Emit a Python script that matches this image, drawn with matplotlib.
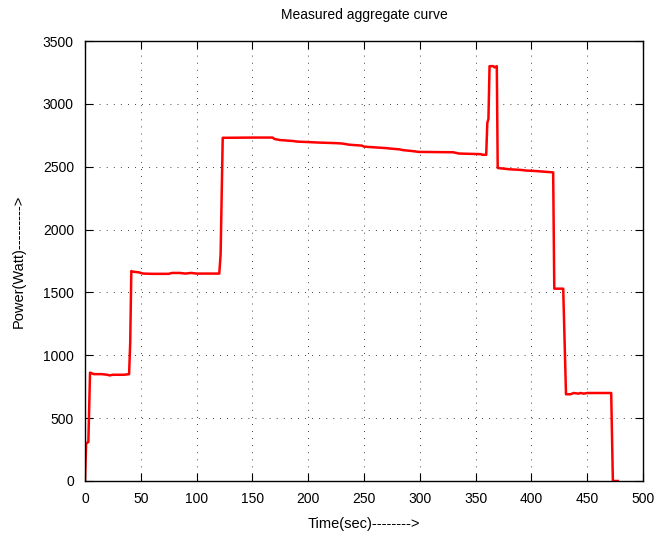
# Measured aggregate power curve (gnuplot-style)
import matplotlib
matplotlib.use("Agg")
import matplotlib.pyplot as plt

plt.rcParams["font.family"] = ["Liberation Sans", "DejaVu Sans"]

# Time (sec) and power (Watt) samples (10 per line)
time_sec = [0, 1, 2, 3, 4.5, 8, 15, 20, 22, 25,
            35, 39.5, 40.5, 41.5, 43, 48, 52, 60, 75, 78,
            85, 90, 95, 100, 120.3, 121.5, 123.4, 150, 168, 170,
            175, 186, 190, 203, 210, 224, 230, 237, 248, 250,
            258, 270, 273, 282, 285, 293, 299, 330, 335, 355,
            356, 359.5, 360.5, 361.5, 362.5, 366, 367, 369, 369.8, 375,
            380, 390, 395, 405, 419.5, 420.5, 428.5, 431, 435, 438,
            442, 444, 447, 450, 471.5, 473, 477.5]
power_watt = [0, 300, 305, 310, 862, 850, 850, 845, 840, 845,
              845, 850, 1100, 1670, 1665, 1660, 1650, 1648, 1648, 1655,
              1655, 1650, 1655, 1650, 1650, 1800, 2730, 2732, 2732, 2720,
              2712, 2705, 2700, 2695, 2692, 2688, 2685, 2675, 2668, 2660,
              2655, 2648, 2645, 2638, 2632, 2625, 2618, 2615, 2605, 2600,
              2595, 2595, 2850, 2880, 3300, 3300, 3290, 3300, 2490, 2485,
              2480, 2475, 2470, 2465, 2455, 1530, 1530, 690, 690, 700,
              695, 700, 695, 700, 700, 0, 0]

fig = plt.figure(figsize=(6.58, 5.37), dpi=100)
ax = fig.add_axes([0.1292, 0.1043, 0.8480, 0.8193])

ax.plot(time_sec, power_watt, color="red", linewidth=1.8)

ax.set_xlim(0, 500)
ax.set_ylim(0, 3500)
ax.set_xticks(range(0, 501, 50))
ax.set_yticks(range(0, 3501, 500))
ax.grid(True, color="black", linestyle=(0, (1, 7.5)), linewidth=0.6)
ax.tick_params(direction="in", length=6, width=0.8, top=True, right=True,
               labelsize=10, pad=8)
for s in ax.spines.values():
    s.set_linewidth(1.0)

ax.set_title("Measured aggregate curve", fontsize=10, pad=16)
ax.set_xlabel("Time(sec)-------->", fontsize=10.5, labelpad=8)
ax.set_ylabel("Power(Watt)--------->", fontsize=10.5, labelpad=12)

fig.savefig("out.png", dpi=100)
